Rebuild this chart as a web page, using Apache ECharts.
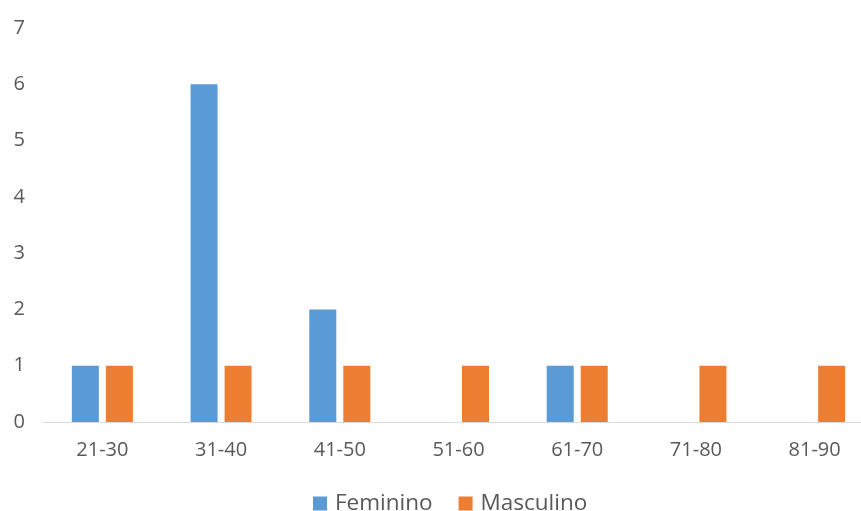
<!DOCTYPE html>
<html><head><meta charset="utf-8">
<script src="https://cdn.jsdelivr.net/npm/echarts@6/dist/echarts.min.js"></script>
<style>html,body{margin:0;padding:0;background:#fff}#c{width:861px;height:511px}</style>
</head><body><div id="c"></div>
<script>
const categories = ['21-30','31-40','41-50','51-60','61-70','71-80','81-90'];
const feminino = [1, 6, 2, 0, 1, 0, 0];
const masculino = [1, 1, 1, 1, 1, 1, 1];
const yTicks = [0,1,2,3,4,5,6,7];

const chart = echarts.init(document.getElementById('c'));
chart.setOption({
  animation: false,
  grid: { left: 43, top: 28, width: 831, height: 394, outerBoundsMode: 'none', containLabel: false },
  legend: {
    top: 492, left: 313, padding: 0, itemWidth: 14, itemHeight: 14, itemGap: 26,
    icon: 'rect',
    textStyle: { color: '#595959', fontSize: 22.5, fontFamily: 'Open Sans', padding: [0,0,0,3] },
    data: ['Feminino','Masculino']
  },
  xAxis: {
    type: 'category', data: categories,
    axisLine: { lineStyle: { color: '#d9d9d9', width: 1 } },
    axisTick: { show: false },
    axisLabel: { color: '#595959', fontSize: 20, margin: 18, fontFamily: 'Open Sans' }
  },
  yAxis: {
    type: 'value', min: 0, max: 7, interval: 1,
    splitLine: { show: false },
    axisLine: { show: false },
    axisLabel: { color: '#595959', fontSize: 20, margin: 18, fontFamily: 'Open Sans',
      formatter: v => yTicks.includes(v) ? String(v) : '' }
  },
  series: [
    { name: 'Feminino', type: 'bar', data: feminino, barWidth: 27, barGap: '26%',
      itemStyle: { color: '#5B9BD5' } },
    { name: 'Masculino', type: 'bar', data: masculino, barWidth: 27, barGap: '26%',
      itemStyle: { color: '#ED7D31' } }
  ]
});
</script></body></html>
